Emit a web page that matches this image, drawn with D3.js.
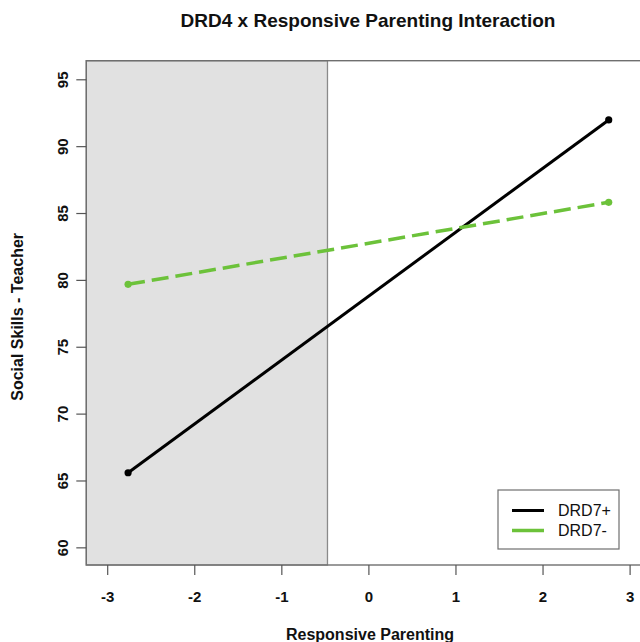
<!DOCTYPE html>
<html lang="en">
<head>
<meta charset="UTF-8">
<title>DRD4 x Responsive Parenting Interaction</title>
<script src="https://d3js.org/d3.v7.min.js"></script>
<style>
  body { margin: 0; background: #fff; }
  svg text { font-family: "Liberation Sans", Arial, sans-serif; }
</style>
</head>
<body>
<div id="chart"></div>
<script>
// ====== DATA ======
var xPoints = [-2.76, 2.76];
var drd7Plus = [65.58, 91.96];
var drd7Minus = [79.67, 85.80];
var seriesNames = ["DRD7+", "DRD7-"];
var xTicks = [-3, -2, -1, 0, 1, 2, 3];
var yTicks = [60, 65, 70, 75, 80, 85, 90, 95];
var shadeTo = -0.47; // region of significance boundary

// ====== LAYOUT ======
var W = 640, H = 642;
var plotL = 86.3, plotR = 650.5, plotT = 60.7, plotB = 565;

var svg = d3.select("#chart").append("svg")
  .attr("width", W).attr("height", H);

var x = d3.scaleLinear().domain([-3.24, 3.24]).range([plotL, plotR]);
var y = d3.scaleLinear().domain([58.68, 96.39]).range([plotB, plotT]);

// shaded region
svg.append("rect")
  .attr("x", x(-3.24)).attr("y", plotT)
  .attr("width", x(shadeTo) - x(-3.24)).attr("height", plotB - plotT)
  .attr("fill", "#e1e1e1")
  .attr("stroke", "#8a8a8a").attr("stroke-width", 1.3);

// plot box
svg.append("rect")
  .attr("x", plotL).attr("y", plotT)
  .attr("width", plotR - plotL).attr("height", plotB - plotT)
  .attr("fill", "none").attr("stroke", "#6f6f6f").attr("stroke-width", 1.4);

// axes
var xAxis = svg.append("g")
  .attr("transform", "translate(0," + plotB + ")")
  .call(d3.axisBottom(x).tickValues(xTicks).tickSize(10).tickPadding(16).tickFormat(String));
xAxis.select(".domain").remove();
xAxis.selectAll("line").attr("stroke", "#555").attr("stroke-width", 1.2);
xAxis.selectAll("text")
  .attr("font-size", 15).attr("font-weight", "bold").attr("fill", "#111");

var yAxis = svg.append("g")
  .attr("transform", "translate(" + plotL + ",0)")
  .call(d3.axisLeft(y).tickValues(yTicks).tickSize(10).tickFormat(String));
yAxis.select(".domain").remove();
yAxis.selectAll("line").attr("stroke", "#555").attr("stroke-width", 1.2);
yAxis.selectAll("text")
  .attr("font-size", 15).attr("font-weight", "bold").attr("fill", "#111")
  .attr("x", 0)
  .attr("transform", "translate(-24,0) rotate(-90)")
  .attr("text-anchor", "middle")
  .attr("dy", "0.35em");

// lines
var series = [
  {name: seriesNames[0], vals: drd7Plus, color: "#000", width: 3, dash: null},
  {name: seriesNames[1], vals: drd7Minus, color: "#6cc23a", width: 3.5, dash: "17,7"}
];

var line = d3.line().x(function(d) { return x(d[0]); }).y(function(d) { return y(d[1]); });

series.forEach(function(s) {
  var pts = xPoints.map(function(v, i) { return [v, s.vals[i]]; });
  svg.append("path")
    .datum(pts)
    .attr("d", line)
    .attr("fill", "none")
    .attr("stroke", s.color)
    .attr("stroke-width", s.width)
    .attr("stroke-dasharray", s.dash);
  svg.selectAll(null)
    .data(pts)
    .enter().append("circle")
    .attr("cx", function(d) { return x(d[0]); })
    .attr("cy", function(d) { return y(d[1]); })
    .attr("r", 3.6)
    .attr("fill", s.color);
});

// legend
var lg = svg.append("g").attr("transform", "translate(498,490)");
lg.append("rect").attr("width", 121).attr("height", 59)
  .attr("fill", "#fff").attr("stroke", "#6f6f6f").attr("stroke-width", 1.2);
series.forEach(function(s, i) {
  lg.append("line")
    .attr("x1", 14).attr("x2", 46)
    .attr("y1", 20.5 + i * 20).attr("y2", 20.5 + i * 20)
    .attr("stroke", s.color).attr("stroke-width", s.width);
  lg.append("text")
    .attr("x", 60).attr("y", 20.5 + i * 20).attr("dy", "0.35em")
    .attr("font-size", 16).attr("fill", "#111")
    .text(s.name);
});

// titles
svg.append("text")
  .attr("x", 368).attr("y", 27)
  .attr("text-anchor", "middle")
  .attr("font-size", 19).attr("font-weight", "bold").attr("fill", "#111")
  .text("DRD4 x Responsive Parenting Interaction");

svg.append("text")
  .attr("x", 370).attr("y", 640)
  .attr("text-anchor", "middle")
  .attr("font-size", 16).attr("font-weight", "bold").attr("fill", "#111")
  .text("Responsive Parenting");

svg.append("text")
  .attr("transform", "translate(23," + ((plotT + plotB) / 2 + 4) + ") rotate(-90)")
  .attr("text-anchor", "middle")
  .attr("font-size", 16).attr("font-weight", "bold").attr("fill", "#111")
  .text("Social Skills - Teacher");
</script>
</body>
</html>
